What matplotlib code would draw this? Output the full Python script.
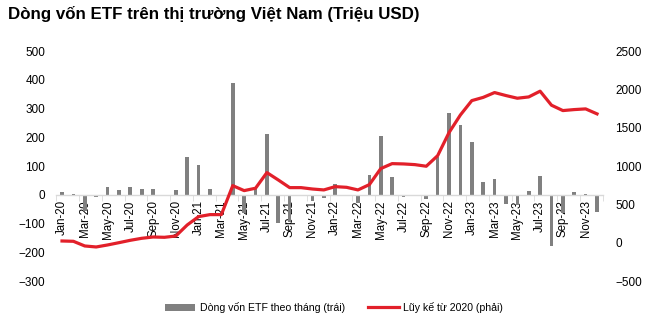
import matplotlib
matplotlib.use("Agg")
import matplotlib.pyplot as plt
import numpy as np
from matplotlib.patches import Patch
from matplotlib.lines import Line2D

plt.rcParams['font.family'] = ['Liberation Sans', 'DejaVu Sans']

months = ['Jan-20', 'Feb-20', 'Mar-20', 'Apr-20', 'May-20', 'Jun-20', 'Jul-20', 'Aug-20', 'Sep-20', 'Oct-20', 'Nov-20', 'Dec-20',
          'Jan-21', 'Feb-21', 'Mar-21', 'Apr-21', 'May-21', 'Jun-21', 'Jul-21', 'Aug-21', 'Sep-21', 'Oct-21', 'Nov-21', 'Dec-21',
          'Jan-22', 'Feb-22', 'Mar-22', 'Apr-22', 'May-22', 'Jun-22', 'Jul-22', 'Aug-22', 'Sep-22', 'Oct-22', 'Nov-22', 'Dec-22',
          'Jan-23', 'Feb-23', 'Mar-23', 'Apr-23', 'May-23', 'Jun-23', 'Jul-23', 'Aug-23', 'Sep-23', 'Oct-23', 'Nov-23', 'Dec-23']

monthly_flow = [10, 4, -55, -9, 27, 16, 27, 21, 21, -3, 15, 132,
                103, 21, -3, 390, -62, 20, 210, -98, -95, -2, -21, -13,
                39, -5, -30, 68, 203, 63, -8, -3, -16, 130, 285, 244,
                182, 45, 56, -32, -35, 14, 65, -177, -65, 8, 3, -59]

cumulative = [22, 18, -43, -56, -30, 0, 31, 57, 74, 70, 87, 231,
              340, 366, 366, 744, 679, 710, 914, 818, 718, 718, 700, 688,
              731, 722, 688, 757, 966, 1031, 1027, 1018, 997, 1135, 1436, 1666,
              1853, 1895, 1958, 1919, 1884, 1901, 1976, 1793, 1723, 1736, 1745, 1680]

left_ticks = [-300, -200, -100, 0, 100, 200, 300, 400, 500]
right_ticks = [-500, 0, 500, 1000, 1500, 2000, 2500]

title = 'Dòng vốn ETF trên thị trường Việt Nam (Triệu USD)'
bar_label = 'Dòng vốn ETF theo tháng (trái)'
line_label = 'Lũy kế từ 2020 (phải)'

bar_color = '#808080'
line_color = '#e2202a'

fig = plt.figure(figsize=(6.48, 3.22), dpi=100)
ax = fig.add_axes([0.0869, 0.1273, 0.9301 - 0.0869, 0.8416 - 0.1273])
x = np.arange(len(months))

ax.bar(x, monthly_flow, width=0.32, color=bar_color, zorder=2)
ax.set_xlim(-0.5, len(months) - 0.5)
ax.set_ylim(-300, 500)
ax.set_yticks(left_ticks)
ax.tick_params(axis='y', length=0, labelsize=8.5, pad=8)

for s in ['top', 'right', 'left']:
    ax.spines[s].set_visible(False)
ax.spines['bottom'].set_position(('data', 0))
ax.spines['bottom'].set_color('#d9d9d9')
ax.spines['bottom'].set_linewidth(1.0)

ax.set_xticks(x[::2])
ax.set_xticklabels(months[::2], rotation=90, fontsize=8.3)
ax.set_xticks(np.arange(-0.5, len(months), 2), minor=True)
ax.tick_params(axis='x', which='major', length=0, pad=4)
ax.tick_params(axis='x', which='minor', length=4, color='#d9d9d9', direction='out')

ax2 = ax.twinx()
ax2.plot(x, cumulative, color=line_color, linewidth=2.3, zorder=3)
ax2.set_ylim(-500, 2500)
ax2.set_yticks(right_ticks)
ax2.tick_params(axis='y', length=0, labelsize=8.5, pad=9)
for s in ['top', 'right', 'left', 'bottom']:
    ax2.spines[s].set_visible(False)

fig.text(0.012, 0.955, title, fontsize=12.2, fontweight='bold', ha='left', va='center', color='#000000')

handles = [Patch(facecolor=bar_color, edgecolor='none'),
           Line2D([0], [0], color=line_color, linewidth=2.3)]
fig.legend(handles, [bar_label, line_label], loc='center', bbox_to_anchor=(0.515, 0.045),
           ncol=2, frameon=False, fontsize=7.6, handlelength=2.9, handleheight=0.6,
           columnspacing=2.2, handletextpad=0.4)

fig.savefig('out.png', dpi=100, facecolor='white')
